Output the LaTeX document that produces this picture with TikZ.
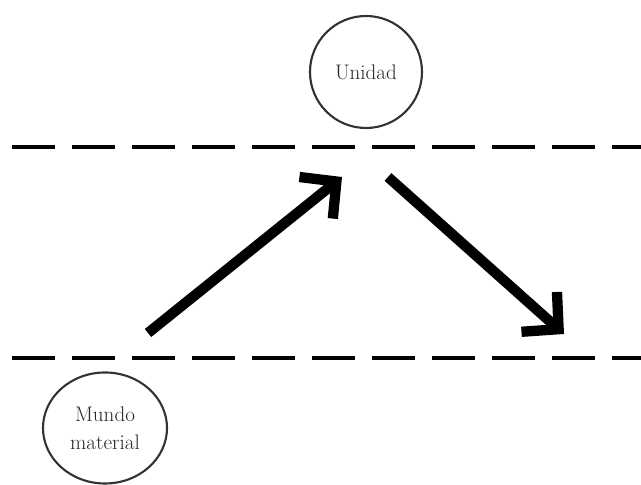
\documentclass[tikz,border=0pt]{standalone}
\usetikzlibrary{arrows.meta,shapes.geometric}
\begin{document}
\begin{tikzpicture}[x=0.03cm,y=0.03cm,line join=miter,>={Straight Barb[length=0.78cm,width=1.6cm]},
	nivel/.style={line width=3.4pt,dash pattern=on 1.29cm off 0.51cm},
	flecha/.style={->,line width=8.8pt},
	esfera/.style={draw=black!80,line width=1.8pt,align=center,text=black!85,font=\fontsize{18}{24}\selectfont}]
	\useasboundingbox (0,0) rectangle (641,485);
	%Las dos líneas de trazos
	\foreach \y in {127,338} \draw[nivel] (12,\y)--(641,\y);
	%Los círculos
	\node[esfera,circle,minimum size=3.36cm] (unidad) at (366,413) {Unidad};
	\node[esfera,ellipse,minimum width=3.72cm,minimum height=3.33cm,inner sep=0pt] (mundo) at (105,57) {Mundo\\material};
	%Las flechas
	\coordinate (subeA) at (148,152);
	\coordinate (subeB) at (342,308);
	\coordinate (bajaA) at (388,308);
	\coordinate (bajaB) at (564,151);
	\draw[flecha] (subeA)--(subeB);
	\draw[flecha] (bajaA)--(bajaB);
\end{tikzpicture}
\end{document}
